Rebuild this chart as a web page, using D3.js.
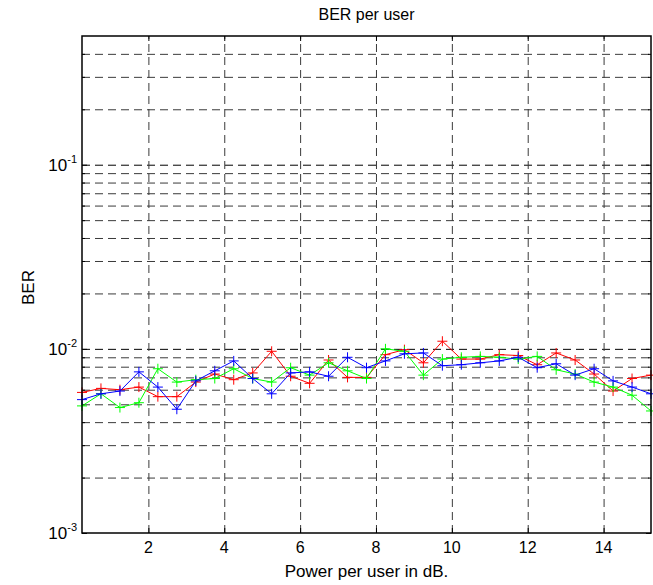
<!DOCTYPE html>
<html>
<head>
<meta charset="utf-8">
<script src="https://cdn.jsdelivr.net/npm/d3@7"></script>
<style>
  body { margin: 0; background: #fff; }
  text { font-family: Arial, "Liberation Sans", Helvetica, sans-serif; fill: #000; }
</style>
</head>
<body>
<div id="chart"></div>
<script>
'use strict';

// Power per user (dB), one point every 0.5 dB
var power = [0.25, 0.75, 1.25, 1.75, 2.25, 2.75, 3.25, 3.75, 4.25, 4.75,
             5.25, 5.75, 6.25, 6.75, 7.25, 7.75, 8.25, 8.75, 9.25, 9.75,
             10.25, 10.75, 11.25, 11.75, 12.25, 12.75, 13.25, 13.75, 14.25, 14.75, 15.25];

// BER, one array per user
var berRed   = [0.0058, 0.0061, 0.0060, 0.0062, 0.0055, 0.0055, 0.0066, 0.0073, 0.0068, 0.0074,
                0.0097, 0.0071, 0.0065, 0.0087, 0.0070, 0.0070, 0.0093, 0.0099, 0.0084, 0.0110,
                0.0088, 0.0088, 0.0093, 0.0092, 0.0082, 0.0095, 0.0087, 0.0073, 0.0059, 0.0069, 0.0072];
var berGreen = [0.0049, 0.0057, 0.0048, 0.0051, 0.0078, 0.0066, 0.0068, 0.0069, 0.0078, 0.0069,
                0.0066, 0.0079, 0.0072, 0.0084, 0.0076, 0.0069, 0.0100, 0.0097, 0.0072, 0.0088,
                0.0090, 0.0091, 0.0090, 0.0088, 0.0091, 0.0077, 0.0073, 0.0066, 0.0062, 0.0056, 0.0046];
var berBlue  = [0.0053, 0.0057, 0.0059, 0.0075, 0.0062, 0.0047, 0.0067, 0.0076, 0.0086, 0.0069,
                0.0057, 0.0074, 0.0075, 0.0071, 0.0090, 0.0079, 0.0086, 0.0094, 0.0095, 0.0081,
                0.0082, 0.0084, 0.0086, 0.0090, 0.0079, 0.0083, 0.0072, 0.0078, 0.0067, 0.0062, 0.0057];

var xTicks   = [2, 4, 6, 8, 10, 12, 14];
var yDecades = [1e-3, 1e-2, 1e-1];
var yMinor   = [2e-3, 3e-3, 4e-3, 5e-3, 6e-3, 7e-3, 8e-3, 9e-3,
                2e-2, 3e-2, 4e-2, 5e-2, 6e-2, 7e-2, 8e-2, 9e-2,
                2e-1, 3e-1, 4e-1];
var exponents = ['-3', '-2', '-1'];

var series = [
  { color: '#ff0000', values: berRed },
  { color: '#00ff00', values: berGreen },
  { color: '#0000ff', values: berBlue }
];

var W = 653, H = 585;
var margin = { top: 36, right: 2, bottom: 52, left: 82 };
var iw = W - margin.left - margin.right;
var ih = H - margin.top - margin.bottom;

var svg = d3.select('#chart').append('svg')
  .attr('width', W)
  .attr('height', H);

var g = svg.append('g')
  .attr('transform', 'translate(' + margin.left + ',' + margin.top + ')');

var x = d3.scaleLinear().domain([0.25, 15.25]).range([0, iw]);
var y = d3.scaleLog().domain([1e-3, 0.5]).range([ih, 0]);

// grid
function dashGrid(axis, cls, color) {
  var gg = g.append('g').attr('class', cls).call(axis);
  gg.select('.domain').remove();
  gg.selectAll('.tick line')
    .attr('stroke', color)
    .attr('stroke-width', 1)
    .attr('stroke-dasharray', '8,5');
  gg.selectAll('.tick text').remove();
  return gg;
}

dashGrid(d3.axisLeft(y).tickValues(yMinor).tickSize(-iw), 'grid-minor', '#3a3a3a');
dashGrid(d3.axisLeft(y).tickValues(yDecades.slice(1)).tickSize(-iw), 'grid-major', '#000');
dashGrid(d3.axisBottom(x).tickValues(xTicks).tickSize(-ih), 'grid-x', '#3a3a3a')
  .attr('transform', 'translate(0,' + ih + ')');

// inward tick marks on all four sides
function tickMarks(axis, tx, ty) {
  var gg = g.append('g').attr('transform', 'translate(' + tx + ',' + ty + ')').call(axis);
  gg.select('.domain').remove();
  gg.selectAll('.tick text').remove();
  gg.selectAll('.tick line').attr('stroke', '#000');
}
tickMarks(d3.axisBottom(x).tickValues(xTicks).tickSize(-5), 0, ih);
tickMarks(d3.axisTop(x).tickValues(xTicks).tickSize(-5), 0, 0);
tickMarks(d3.axisLeft(y).tickValues(yDecades).tickSize(-5), 0, 0);
tickMarks(d3.axisRight(y).tickValues(yDecades).tickSize(-5), iw, 0);
tickMarks(d3.axisLeft(y).tickValues(yMinor).tickSize(-3), 0, 0);
tickMarks(d3.axisRight(y).tickValues(yMinor).tickSize(-3), iw, 0);

// x tick labels
g.append('g').selectAll('text')
  .data(xTicks).enter().append('text')
  .attr('x', function(d) { return x(d); })
  .attr('y', ih + 20)
  .attr('text-anchor', 'middle')
  .style('font-size', '16px')
  .text(function(d) { return d; });

// y tick labels, 10 with superscript exponent
var yl = g.append('g').selectAll('text')
  .data(yDecades).enter().append('text')
  .attr('x', -5)
  .attr('y', function(d) { return y(d) + 6; })
  .attr('text-anchor', 'end')
  .style('font-size', '17px');
yl.append('tspan').text('10');
yl.append('tspan')
  .attr('dy', -8)
  .style('font-size', '11px')
  .text(function(d, i) { return exponents[i]; });

// lines and + markers
var line = d3.line()
  .x(function(d, i) { return x(power[i]); })
  .y(function(d) { return y(d); });

var plot = g.append('g');
series.forEach(function(s) {
  plot.append('path')
    .datum(s.values)
    .attr('fill', 'none')
    .attr('stroke', s.color)
    .attr('stroke-width', 1)
    .attr('d', line);
  plot.append('g').selectAll('path')
    .data(s.values).enter().append('path')
    .attr('fill', 'none')
    .attr('stroke', s.color)
    .attr('stroke-width', 1)
    .attr('d', function(d, i) {
      var px = x(power[i]), py = y(d), r = 5;
      return 'M' + (px - r) + ',' + py + 'H' + (px + r) + 'M' + px + ',' + (py - r) + 'V' + (py + r);
    });
});

// axes box
g.append('rect')
  .attr('width', iw)
  .attr('height', ih)
  .attr('fill', 'none')
  .attr('stroke', '#000')
  .attr('stroke-width', 1.5);

// titles
svg.append('text')
  .attr('x', margin.left + iw / 2)
  .attr('y', 20)
  .attr('text-anchor', 'middle')
  .style('font-size', '16px')
  .text('BER per user');

svg.append('text')
  .attr('x', margin.left + iw / 2)
  .attr('y', 577)
  .attr('text-anchor', 'middle')
  .style('font-size', '17px')
  .text('Power per user in dB.');

svg.append('text')
  .attr('transform', 'translate(34,' + (margin.top + ih / 2 + 3) + ') rotate(-90)')
  .attr('text-anchor', 'middle')
  .style('font-size', '17px')
  .text('BER');
</script>
</body>
</html>
